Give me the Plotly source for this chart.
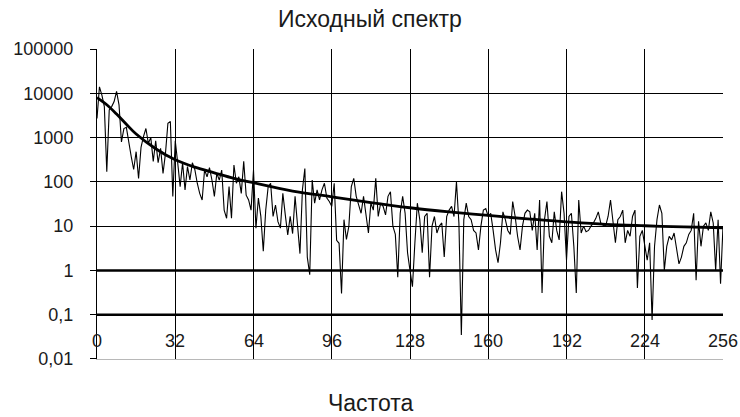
import plotly.graph_objects as go

# --- data ---
noise_amp = [
    2700, 14000, 9100, 5000, 170, 4200, 5000, 6500, 11000, 5500,
    800, 1600, 1700, 740, 370, 190, 480, 120, 600, 1050,
    1600, 740, 1000, 290, 850, 270, 570, 155, 440, 2100,
    2300, 47, 850, 270, 78, 270, 66, 220, 110, 270,
    190, 93, 55, 39, 190, 130, 210, 110, 47, 155,
    110,
    185, 23, 15, 78, 15, 240, 93, 130, 55, 290,
    50, 39, 23, 185, 9, 43, 16.6, 2.7, 23, 78,
    93, 16.6, 30, 12.6, 9, 55, 18, 6.3, 16.6, 6.8,
    47, 8.5, 2.4, 66, 200, 2.0, 0.8, 110, 33, 66,
    39, 66, 93, 43, 36, 28, 93, 4.8, 4.1, 0.3,
    14, 5, 10,
    78, 120, 47, 28, 19.5, 47, 19.5, 7, 33, 23,
    120, 16.5, 33, 28, 18, 47, 60, 10, 6.5, 0.7,
    19.5, 47, 19.5, 2.5, 1, 0.43, 4.2, 33, 14, 2.5,
    16.5, 19.5, 0.7, 10, 16.5, 7, 10, 11.8, 2.0, 16.5,
    23, 28, 16.5, 100, 11.8, 0.035, 14, 33, 16.5, 14, 8,
    7, 2.9, 10, 23, 25, 16.5, 19.5, 8, 2.9, 1.5,
    4.2, 21, 14, 8, 6.5, 36, 16.5, 5.9, 2.9, 10,
    19.5, 23, 21, 8, 19.5, 2.9, 39, 0.31, 14, 36,
    5.9, 4.2, 21, 8, 4.9, 60, 19.5, 1.7, 16.5, 19.5,
    3.5, 0.31, 39, 7, 10, 7.5, 8, 10, 11.8, 15,
    21, 11.8, 10.5, 10, 16.5, 39, 14, 4.2, 14, 16.5,
    23, 4.2, 8, 5.9, 16.5, 23, 0.4, 5.9, 8, 3.5,
    1.7, 4.2, 0.076, 3.5, 14, 30, 19.5, 1, 3.5, 5.9,
    4.9, 7, 2.9, 1.4, 2.0, 3.5, 4.2, 6.5, 8, 19.5,
    0.6, 12.8, 3.5, 10, 11.8, 8, 21, 11.8, 1, 14,
    0.5, 10,
]
noise_freq = list(range(len(noise_amp)))

smooth_freq = [0, 4, 8, 12, 16, 24, 32, 40, 48, 56, 64, 80, 96, 112, 128,
               144, 160, 176, 192, 208, 224, 240, 256]
smooth_amp = [8000, 5500, 3400, 2000, 1200, 560, 315, 215, 160, 120, 95, 62, 46,
              34, 26, 21, 17.5, 14.5, 12.5, 11, 10.2, 9.6, 9.2]

x_ticks = [0, 32, 64, 96, 128, 160, 192, 224, 256]
y_ticks = [0.01, 0.1, 1, 10, 100, 1000, 10000, 100000]
y_tick_text = ["0,01", "0,1", "1", "10", "100", "1000", "10000", "100000"]
bold_levels = [0.1, 1]

title_text = "Исходный спектр"
x_title = "Частота"

FONT = "Liberation Sans, Arial, sans-serif"
TXT = "#1a1a1a"

# plot-area edges in page pixels
PL, PR, PT, PB = 97, 723, 49, 359

fig = go.Figure()
fig.add_trace(go.Scatter(x=noise_freq, y=noise_amp, mode="lines",
                         line=dict(color="black", width=1.1), showlegend=False))
fig.add_trace(go.Scatter(x=smooth_freq, y=smooth_amp, mode="lines",
                         line=dict(color="black", width=2.8, shape="spline"),
                         showlegend=False))

for lv in bold_levels:
    fig.add_shape(type="line", xref="x", yref="y", x0=0, x1=256, y0=lv, y1=lv,
                  line=dict(color="black", width=2.5), layer="above")

# x tick labels drawn inside the plot area, just above the bottom axis
for v in x_ticks:
    fig.add_annotation(x=v, xref="x", y=(PB - 341) / (PB - PT), yref="paper",
                       text=str(v), showarrow=False, xanchor="center",
                       yanchor="middle",
                       font=dict(family=FONT, size=18, color=TXT))

fig.add_annotation(text=title_text, x=(370 - PL) / (PR - PL), xref="paper",
                   y=(PB - 19) / (PB - PT), yref="paper",
                   showarrow=False, xanchor="center", yanchor="middle",
                   font=dict(family=FONT, size=23, color=TXT))
fig.add_annotation(text=x_title, x=(370 - PL) / (PR - PL), xref="paper",
                   y=(PB - 403) / (PB - PT), yref="paper",
                   showarrow=False, xanchor="center", yanchor="middle",
                   font=dict(family=FONT, size=23, color=TXT))

fig.update_layout(
    width=740, height=417,
    margin=dict(l=PL, r=740 - PR, t=PT, b=417 - PB),
    paper_bgcolor="white", plot_bgcolor="white",
    font=dict(family=FONT, color=TXT, size=18),
)
fig.update_xaxes(
    range=[0, 256], tickvals=x_ticks, showticklabels=False,
    showgrid=True, gridcolor="black", gridwidth=1,
    showline=True, linecolor="#b8b8b8", linewidth=1,
    ticks="", zeroline=False, automargin=False,
)
fig.update_yaxes(
    type="log", range=[-2.0005, 5], tickvals=y_ticks, ticktext=y_tick_text,
    showgrid=True, gridcolor="black", gridwidth=1,
    showline=True, linecolor="black", linewidth=1,
    ticks="outside", ticklen=6, tickcolor="black", ticklabelstandoff=13,
    tickfont=dict(size=18, family=FONT, color=TXT),
    zeroline=False, automargin=False,
)

fig.write_html(
    "out.html",
    config={"displayModeBar": False},
    post_script="document.body.style.margin='0px';document.body.style.overflow='hidden';",
)
